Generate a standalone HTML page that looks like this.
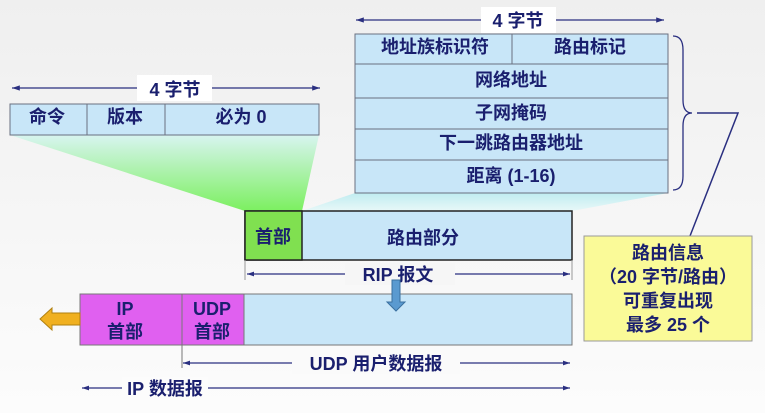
<!DOCTYPE html>
<html><head><meta charset="utf-8"><style>
body{margin:0;width:765px;height:413px;overflow:hidden;background:#f4f4f4}
text{font-family:"Liberation Sans","Noto Sans CJK SC",sans-serif;font-weight:bold;fill:#1a1f6e;font-size:18px;text-anchor:middle}
</style></head><body>
<svg width="765" height="413" viewBox="0 0 765 413" xmlns="http://www.w3.org/2000/svg" style="display:block">
<defs>
<linearGradient id="bg" x1="0" y1="0" x2="0" y2="1"><stop offset="0" stop-color="#efefef"/><stop offset="1" stop-color="#fcfcfc"/></linearGradient>
<linearGradient id="gf" x1="0" y1="0" x2="0" y2="1"><stop offset="0" stop-color="#d8f4f0"/><stop offset="1" stop-color="#7cf060"/></linearGradient>
<linearGradient id="cf" x1="0" y1="0" x2="0" y2="1"><stop offset="0" stop-color="#c0ecf0"/><stop offset="1" stop-color="#e8f8f8"/></linearGradient>
<marker id="a" markerWidth="6" markerHeight="6" refX="6" refY="3" orient="auto"><path d="M0,1 L6,3 L0,5z" fill="#2a2f80"/></marker>
<marker id="b" markerWidth="6" markerHeight="6" refX="0" refY="3" orient="auto"><path d="M6,1 L0,3 L6,5z" fill="#2a2f80"/></marker>
</defs>
<rect width="765" height="413" fill="url(#bg)"/>
<polygon points="355,193 668,193 572,211 302,211" fill="url(#cf)"/>
<polygon points="10,135 319,135 302,211 245,211" fill="url(#gf)"/>
<g stroke="#6a7080" stroke-width="1" fill="#c8e6f8">
<rect x="10" y="104" width="309" height="31"/>
<line x1="87" y1="104" x2="87" y2="135"/><line x1="165" y1="104" x2="165" y2="135"/>
</g>
<text x="47" y="123">命令</text><text x="125" y="123">版本</text><text x="241" y="123">必为 0</text>
<line x1="12" y1="88" x2="320" y2="88" stroke="#2a2f80" stroke-width="1.3" marker-start="url(#b)" marker-end="url(#a)"/>
<rect x="137" y="75" width="75" height="26" fill="#fff"/>
<text x="175" y="96">4 字节</text>
<g stroke="#6a7080" stroke-width="1" fill="#c8e6f8">
<rect x="355" y="34" width="313" height="159"/>
<line x1="355" y1="64" x2="668" y2="64"/><line x1="355" y1="98" x2="668" y2="98"/>
<line x1="355" y1="129" x2="668" y2="129"/><line x1="355" y1="160" x2="668" y2="160"/>
<line x1="512" y1="34" x2="512" y2="64"/>
</g>
<text x="435" y="53">地址族标识符</text><text x="590" y="53">路由标记</text>
<text x="511" y="86">网络地址</text><text x="511" y="119">子网掩码</text>
<text x="511" y="149">下一跳路由器地址</text><text x="511" y="182">距离 (1-16)</text>
<line x1="356" y1="20" x2="664" y2="20" stroke="#2a2f80" stroke-width="1.3" marker-start="url(#b)" marker-end="url(#a)"/>
<rect x="481" y="7" width="75" height="26" fill="#fff"/>
<text x="518" y="27">4 字节</text>
<path d="M673,36 Q683,36 683,50 L683,100 Q683,113 692,113 Q683,113 683,126 L683,176 Q683,190 673,190" fill="none" stroke="#2a2f80" stroke-width="1.3"/>
<polyline points="697,113 738,113 690,236" fill="none" stroke="#2a2f80" stroke-width="1.5"/>
<rect x="584" y="236" width="168" height="105" fill="#fafa98" stroke="#999" stroke-width="1"/>
<text x="668" y="259">路由信息</text><text x="668" y="283">（20 字节/路由）</text>
<text x="668" y="307">可重复出现</text><text x="668" y="331">最多 25 个</text>
<rect x="245" y="211" width="327" height="49" fill="#c8e6f8" stroke="#222" stroke-width="1.5"/>
<rect x="245" y="211" width="57" height="49" fill="#80e050" stroke="#222" stroke-width="1.5"/>
<text x="273" y="243">首部</text><text x="423" y="244">路由部分</text>
<line x1="247" y1="274" x2="570" y2="274" stroke="#2a2f80" stroke-width="1.2" marker-start="url(#b)" marker-end="url(#a)"/>
<rect x="345" y="263" width="110" height="22" fill="#f6f6f6"/>
<text x="398" y="281">RIP 报文</text>
<line x1="245" y1="260" x2="245" y2="280" stroke="#999"/><line x1="572" y1="260" x2="572" y2="280" stroke="#999"/>
<rect x="80" y="294" width="492" height="51" fill="#c8e6f8" stroke="#777" stroke-width="1"/>
<rect x="80" y="294" width="102" height="51" fill="#e060f0" stroke="#777" stroke-width="1"/>
<rect x="182" y="294" width="62" height="51" fill="#e060f0" stroke="#777" stroke-width="1"/>
<text x="125" y="315">IP</text><text x="125" y="338">首部</text>
<text x="212" y="315">UDP</text><text x="212" y="338">首部</text>
<path d="M392,280 L400,280 L400,302 L405,302 L396,311 L387,302 L392,302z" fill="#5a9ad0" stroke="#3a70a0"/>
<path d="M80,313 L52,313 L52,308 L40,319 L52,330 L52,325 L80,325z" fill="#f0b020" stroke="#b08010"/>
<line x1="182" y1="345" x2="182" y2="368" stroke="#777"/>
<line x1="183" y1="363" x2="570" y2="363" stroke="#2a2f80" stroke-width="1.2" marker-start="url(#b)" marker-end="url(#a)"/>
<rect x="292" y="352" width="168" height="22" fill="#fafafa"/>
<text x="376" y="370">UDP 用户数据报</text>
<line x1="82" y1="388" x2="570" y2="388" stroke="#2a2f80" stroke-width="1.2" marker-start="url(#b)" marker-end="url(#a)"/>
<rect x="122" y="377" width="86" height="22" fill="#fcfcfc"/>
<text x="165" y="395">IP 数据报</text>
</svg>
</body></html>
